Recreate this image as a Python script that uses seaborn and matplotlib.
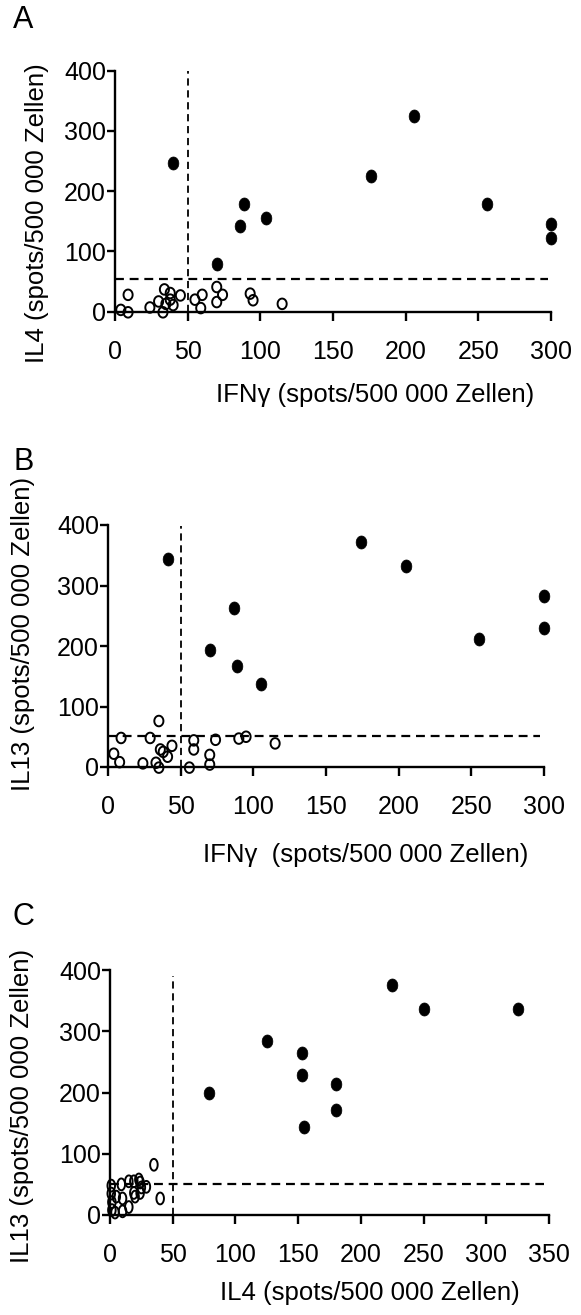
import numpy as np
import pandas as pd
import matplotlib
matplotlib.use("Agg")
import matplotlib.pyplot as plt
from matplotlib.path import Path
import seaborn as sns

# ---------------- data ----------------
# Panel A: IFNg vs IL4
a_pos_ifng = [40, 70, 86, 89, 104, 176, 206, 256, 300, 300]
a_pos_il4 = [246, 79, 142, 179, 155, 225, 325, 179, 145, 122]
a_neg_ifng = [4, 9, 9, 24, 30, 33, 34, 35, 38, 38, 40, 45, 55, 60, 59, 70, 70, 74, 93, 95, 115]
a_neg_il4 = [3, -1, 28, 7, 17, -1, 37, 13, 31, 20, 11, 27, 20, 28, 6, 41, 16, 28, 30, 19, 13]

# Panel B: IFNg vs IL13
b_pos_ifng = [41, 70, 87, 89, 105, 174, 205, 255, 300, 300]
b_pos_il13 = [344, 194, 263, 167, 137, 372, 332, 211, 283, 230]
b_neg_ifng = [4, 8, 9, 24, 29, 33, 35, 35, 36, 38, 41, 44, 56, 59, 59, 70, 70, 74, 90, 95, 115]
b_neg_il13 = [22, 8, 48, 6, 48, 7, -1, 76, 29, 25, 17, 35, -1, 44, 29, 20, 4, 45, 47, 50, 39]

# Panel C: IL4 vs IL13
c_pos_il4 = [79, 125, 153, 153, 155, 180, 180, 225, 250, 325]
c_pos_il13 = [200, 284, 264, 228, 144, 214, 172, 375, 337, 337]
c_neg_il4 = [1, 1, 1.5, 1.5, 4, 9, 10, 10, 15, 15, 19, 19, 23, 24, 24, 25, 29, 35, 40, 5, 20]
c_neg_il13 = [48, 35, 21, 8, 4, 50, 27, 6, 13, 55, 36, 55, 58, 53, 36, 45, 46, 82, 27, 30, 30]

cut_a = (50, 54)
cut_b = (50, 52)
cut_c = (50, 51)

xticks_ab = [0, 50, 100, 150, 200, 250, 300]
xticks_c = [0, 50, 100, 150, 200, 250, 300, 350]
yticks = [0, 100, 200, 300, 400]

# ---------------- style ----------------
sns.set_theme(style="white")
plt.rcParams["font.family"] = ["Liberation Sans", "DejaVu Sans"]
plt.rcParams["text.color"] = "black"
plt.rcParams["axes.labelcolor"] = "black"
plt.rcParams["xtick.color"] = "black"
plt.rcParams["ytick.color"] = "black"

W, H = 581, 1315
fig = plt.figure(figsize=(W / 100, H / 100), dpi=100)


def ellipse(ratio):
    t = np.linspace(0, 2 * np.pi, 64)
    verts = np.column_stack([ratio * np.sin(t), np.cos(t)])
    return Path(verts, closed=True)


filled_marker = ellipse(0.82)
open_marker_ab = ellipse(0.86)
open_marker_c = ellipse(0.64)


def make_ax(x0, x1, ytop, ybot):
    return fig.add_axes([x0 / W, 1 - ybot / H, (x1 - x0) / W, (ybot - ytop) / H])


def panel(ax, pos_x, pos_y, neg_x, neg_y, xmax, xticks, cut, vtop, hend,
          xlabel, ylabel, xl_pos, yl_pos, open_marker, open_s):
    ax.set_xlim(0, xmax)
    ax.set_ylim(0, 400)
    # threshold lines
    ls = (0, (4.0, 2.6))
    ax.plot([cut[0], cut[0]], [0, vtop], color="black", lw=1.3, ls=ls, zorder=2, clip_on=False)
    ax.plot([0, hend], [cut[1], cut[1]], color="black", lw=1.6, ls=ls, zorder=2, clip_on=False)
    neg = pd.DataFrame({"x": neg_x, "y": neg_y})
    pos = pd.DataFrame({"x": pos_x, "y": pos_y})
    sns.scatterplot(data=neg, x="x", y="y", ax=ax, marker=open_marker, s=open_s,
                    color="black", edgecolor="black", linewidth=1.4, clip_on=False,
                    zorder=3, legend=False)
    ax.collections[-1].set_facecolor("none")
    sns.scatterplot(data=pos, x="x", y="y", ax=ax, marker=filled_marker, s=88,
                    color="black", edgecolor="black", linewidth=0.5, clip_on=False,
                    zorder=4, legend=False)
    sns.despine(ax=ax)
    for s in ["left", "bottom"]:
        ax.spines[s].set_linewidth(1.7)
        ax.spines[s].set_color("black")
    ax.set_xticks(xticks)
    ax.set_yticks(yticks)
    ax.tick_params(axis="x", direction="out", length=6.5, width=1.7, pad=14,
                   labelsize=18, colors="black", bottom=True)
    ax.tick_params(axis="y", direction="out", length=6, width=1.7, pad=0.5,
                   labelsize=18, colors="black", left=True)
    ax.set_xlabel(xlabel, fontsize=18.5, va="center", ha="center", color="black")
    ax.set_ylabel(ylabel, fontsize=18.5, va="center", ha="center", color="black")
    ax.xaxis.set_label_coords(*xl_pos)
    ax.yaxis.set_label_coords(*yl_pos)
    ax.grid(False)
    ax.set_facecolor("none")


axA = make_ax(115, 551, 70.7, 311.7)
panel(axA, a_pos_ifng, a_pos_il4, a_neg_ifng, a_neg_il4, 300, xticks_ab, cut_a, 400, 298,
      "IFNγ (spots/500 000 Zellen)", "IL4 (spots/500 000 Zellen)",
      (0.597, -0.346), (-0.179, 0.407), open_marker_ab, 58)

axB = make_ax(108, 544, 525, 767)
panel(axB, b_pos_ifng, b_pos_il13, b_neg_ifng, b_neg_il13, 300, xticks_ab, cut_b, 398, 297,
      "IFNγ  (spots/500 000 Zellen)", "IL13 (spots/500 000 Zellen)",
      (0.592, -0.364), (-0.195, 0.55), open_marker_ab, 58)

axC = make_ax(110, 549, 970, 1215)
panel(axC, c_pos_il4, c_pos_il13, c_neg_il4, c_neg_il13, 350, xticks_c, cut_c, 390, 346,
      "IL4 (spots/500 000 Zellen)", "IL13 (spots/500 000 Zellen)",
      (0.592, -0.318), (-0.2, 0.447), open_marker_c, 72)

for lab, yy in [("A", 20), ("B", 462), ("C", 917)]:
    fig.text(13 / W, 1 - yy / H, lab, fontsize=22, ha="left", va="center", color="black")

fig.savefig("out.png", dpi=100, facecolor="white")
